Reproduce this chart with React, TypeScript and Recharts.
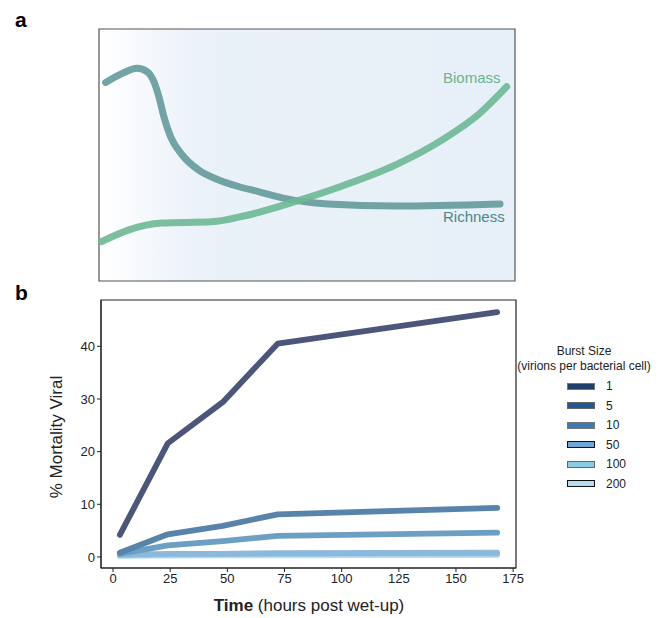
import {
  LineChart,
  Line,
  XAxis,
  YAxis,
  ReferenceArea
} from "recharts";

// panel a: conceptual curves (arbitrary units, 0-100)
const richnessX = [1.6, 5.6, 9.2, 11.6, 13.2, 14.4, 15.6, 17.2, 20.0, 24.0, 28.8, 33.7, 38.5, 44.0, 55.0, 71.2, 96.4];
const richnessY = [78.8, 82.4, 84.4, 83.0, 79.1, 73.1, 65.2, 57.3, 50.0, 44.0, 40.1, 37.4, 35.4, 33.0, 30.6, 29.8, 30.6];
const biomassX = [0.6, 7.0, 15.1, 27.1, 35.1, 47.1, 59.1, 71.2, 83.2, 91.1, 98.0];
const biomassY = [15.6, 20.2, 23.0, 23.5, 25.9, 31.5, 38.1, 46.0, 56.7, 65.9, 77.1];

// panel b: % viral mortality by burst size
const times = [3, 24, 48, 72, 168];
const burst1 = [4.2, 21.6, 29.4, 40.5, 46.5];
const burst5 = [0.8, 4.3, 5.9, 8.1, 9.3];
const burst10 = [0.6, 2.2, 3.0, 4.0, 4.6];
const burst50 = [0.4, 0.6, 0.6, 0.7, 0.8];
const burst100 = [0.3, 0.4, 0.45, 0.5, 0.55];
const burst200 = [0.2, 0.25, 0.3, 0.3, 0.35];
const xTicks = [0, 25, 50, 75, 100, 125, 150, 175];
const yTicks = [0, 10, 20, 30, 40];

const richness = richnessX.map((x, i) => ({ x, y: richnessY[i] }));
const biomass = biomassX.map((x, i) => ({ x, y: biomassY[i] }));

const mortality = times.map((t, i) => ({
  t,
  b1: burst1[i],
  b5: burst5[i],
  b10: burst10[i],
  b50: burst50[i],
  b100: burst100[i],
  b200: burst200[i]
}));

const SERIES = [
  { key: "b200", label: "200", line: "#c0e0f1", fill: "#b5dcef", edge: "#111" },
  { key: "b100", label: "100", line: "#a6d3ea", fill: "#8ccbe6", edge: "#666" },
  { key: "b50", label: "50", line: "#8cb8db", fill: "#6ea7d6", edge: "#111" },
  { key: "b10", label: "10", line: "#6d9fc4", fill: "#3b7ab6", edge: "#777" },
  { key: "b5", label: "5", line: "#5883aa", fill: "#1f5a96", edge: "#666" },
  { key: "b1", label: "1", line: "#4b5679", fill: "#1f3f6a", edge: "#777" }
];

const FONT = "'Liberation Sans', Arial, sans-serif";

function App() {
  return (
    <div
      style={{
        position: "absolute",
        left: 0,
        top: 0,
        width: 663,
        height: 618,
        background: "#fff",
        fontFamily: FONT
      }}
    >
      <div style={{ position: "absolute", left: 0, top: 0 }}>
        <LineChart
          width={663}
          height={300}
          margin={{ top: 29, right: 148, bottom: 19, left: 99 }}
        >
          <defs>
            <linearGradient id="panelA" x1="0" y1="0" x2="1" y2="0">
              <stop offset="0%" stopColor="#ffffff" />
              <stop offset="25%" stopColor="#eaf1f9" />
              <stop offset="100%" stopColor="#e7f0f8" />
            </linearGradient>
          </defs>
          <XAxis type="number" dataKey="x" domain={[0, 100]} hide />
          <YAxis type="number" domain={[0, 100]} hide />
          <ReferenceArea
            x1={0}
            x2={100}
            y1={0}
            y2={100}
            fill="url(#panelA)"
            fillOpacity={1}
            stroke="#555"
            strokeWidth={1.2}
          />
          <Line
            data={richness}
            dataKey="y"
            type="monotone"
            stroke="#6a9ea0"
            strokeOpacity={0.95}
            strokeWidth={7}
            strokeLinecap="round"
            dot={false}
            isAnimationActive={false}
          />
          <Line
            data={biomass}
            dataKey="y"
            type="monotone"
            stroke="#6db893"
            strokeOpacity={0.9}
            strokeWidth={7}
            strokeLinecap="round"
            dot={false}
            isAnimationActive={false}
          />
        </LineChart>
      </div>

      <div style={{ position: "absolute", left: 443, top: 69, fontSize: 15, color: "#6ab38d" }}>
        Biomass
      </div>
      <div style={{ position: "absolute", left: 443, top: 208, fontSize: 15, color: "#4a8888" }}>
        Richness
      </div>

      <div style={{ position: "absolute", left: 15, top: 8, fontSize: 21, fontWeight: "bold" }}>a</div>
      <div style={{ position: "absolute", left: 15, top: 281, fontSize: 21, fontWeight: "bold" }}>b</div>

      <div style={{ position: "absolute", left: 0, top: 290 }}>
        <LineChart
          width={663}
          height={328}
          data={mortality}
          margin={{ top: 10, right: 147, bottom: 20, left: 56 }}
        >
          <XAxis
            type="number"
            dataKey="t"
            domain={[-5.25, 176.25]}
            ticks={xTicks}
            height={30}
            tickSize={4}
            stroke="#222"
            tick={{ fill: "#222", fontSize: 13, fontFamily: FONT }}
          />
          <YAxis
            type="number"
            domain={[-2.1, 48.8]}
            ticks={yTicks}
            width={45}
            tickSize={4}
            stroke="#222"
            tick={{ fill: "#222", fontSize: 13, fontFamily: FONT }}
          />
          <ReferenceArea
            x1={-5.25}
            x2={176.25}
            y1={-2.1}
            y2={48.8}
            fill="none"
            stroke="#222"
            strokeWidth={1.2}
          />
          {SERIES.map((s) => (
            <Line
              key={s.key}
              dataKey={s.key}
              type="linear"
              stroke={s.line}
              strokeWidth={5.8}
              strokeLinecap="round"
              strokeLinejoin="round"
              dot={false}
              isAnimationActive={false}
            />
          ))}
        </LineChart>
      </div>

      <div
        style={{
          position: "absolute",
          left: 57,
          top: 437,
          fontSize: 17,
          color: "#222",
          whiteSpace: "nowrap",
          transform: "translate(-50%, -50%) rotate(-90deg)",
          transformOrigin: "center"
        }}
      >
        % Mortality Viral
      </div>

      <div
        style={{
          position: "absolute",
          left: 309,
          top: 596,
          fontSize: 17,
          color: "#222",
          whiteSpace: "nowrap",
          transform: "translateX(-50%)"
        }}
      >
        <b>Time</b> (hours post wet-up)
      </div>

      <div
        style={{
          position: "absolute",
          left: 584,
          top: 344,
          fontSize: 12,
          color: "#222",
          textAlign: "center",
          whiteSpace: "nowrap",
          transform: "translateX(-50%)",
          lineHeight: "15px"
        }}
      >
        Burst Size
        <br />
        (virions per bacterial cell)
      </div>
      {[...SERIES].reverse().map((s, i) => (
        <div
          key={s.key}
          style={{
            position: "absolute",
            left: 567,
            top: 379 + i * 19.5,
            height: 14,
            display: "flex",
            alignItems: "center",
            fontSize: 12,
            color: "#222"
          }}
        >
          <span
            style={{
              display: "inline-block",
              width: 26,
              height: 5,
              background: s.fill,
              border: `1px solid ${s.edge}`,
              marginRight: 11
            }}
          />
          {s.label}
        </div>
      ))}
    </div>
  );
}

export default App;
